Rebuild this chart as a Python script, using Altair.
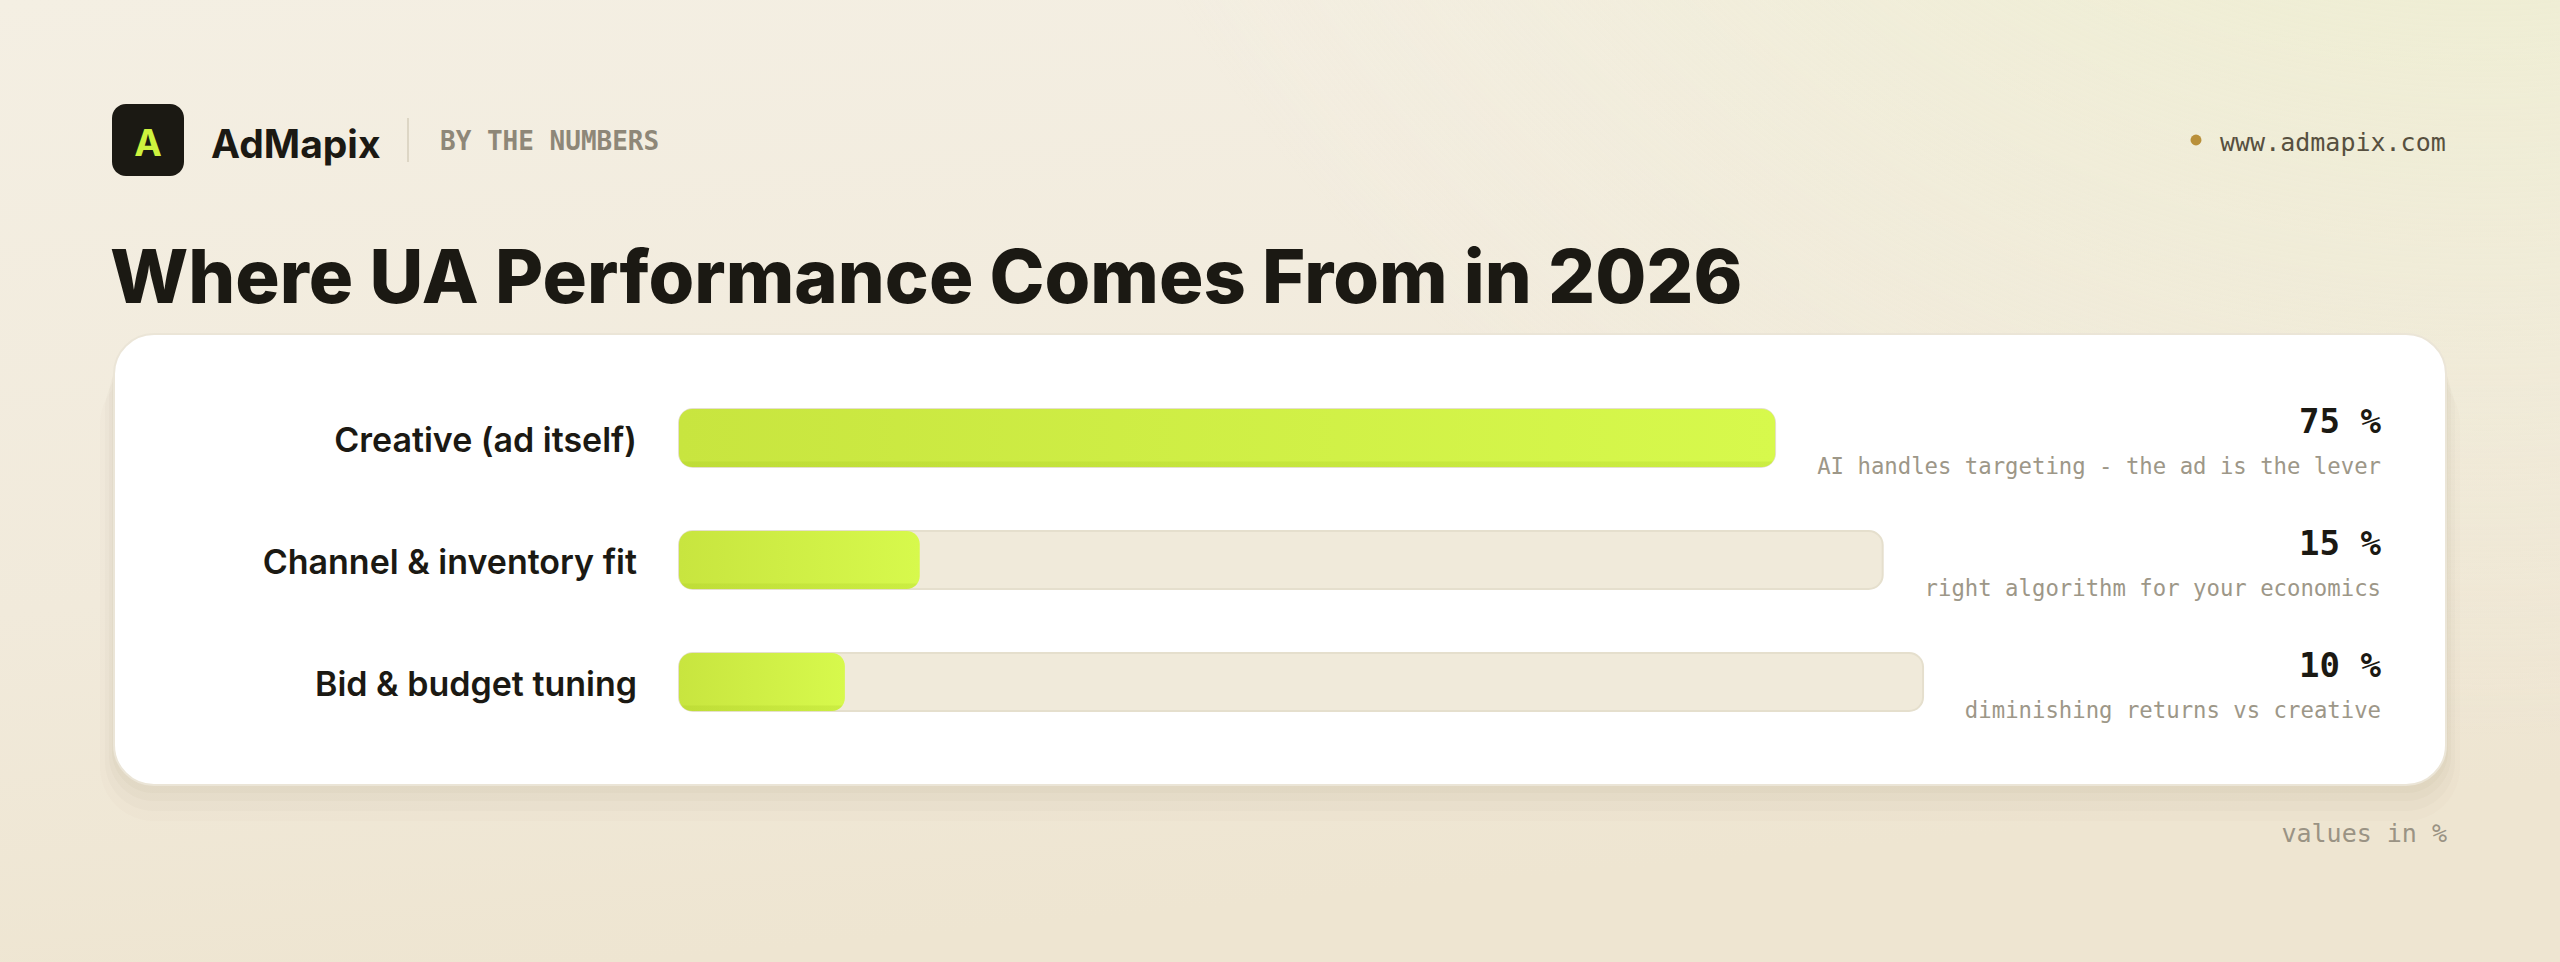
import altair as alt
import pandas as pd

# ---------------- data ----------------
categories = ["Creative (ad itself)", "Channel & inventory fit", "Bid & budget tuning"]
values = [75, 15, 10]
value_labels = ["75 %", "15 %", "10 %"]
notes = [
    "AI handles targeting - the ad is the lever",
    "right algorithm for your economics",
    "diminishing returns vs creative",
]

title_text = "Where UA Performance Comes From in 2026"
brand = "AdMapix"
kicker = "BY THE NUMBERS"
site = "www.admapix.com"
footnote = "values in %"

df = pd.DataFrame({"category": categories, "value": values,
                   "vlabel": value_labels, "note": notes})
one = pd.DataFrame({"k": [0]})

# ---------------- layout constants ----------------
W, H = 2560, 962
TRACK_X0, RIGHT_X = 679, 2381          # track start / right edge of value text
SPAN = RIGHT_X - TRACK_X0
CHAR_W = 13.45                          # monospace note char width
GAP = 41
INK = "#1b1913"
MONO = "DejaVu Sans Mono"
SANS = "Inter"

xs = alt.Scale(domain=[0, 100], range=[TRACK_X0, RIGHT_X], nice=False, zero=False)
ys = alt.Scale(domain=categories, range=[348, 772], paddingInner=0.5246, paddingOuter=0.5)
X0 = alt.X("x0:Q", scale=xs, axis=None)
Y = alt.Y("category:N", scale=ys, axis=None, sort=categories)

# ---------------- background ----------------
bg = alt.Chart(one).mark_rect(
    color=alt.Gradient(gradient="linear", x1=0, y1=0, x2=0.25, y2=1,
                       stops=[alt.GradientStop(color="#f4efe3", offset=0),
                              alt.GradientStop(color="#f1eadb", offset=0.6),
                              alt.GradientStop(color="#eee5d1", offset=1)])
).encode(x=alt.value(0), x2=alt.value(W), y=alt.value(0), y2=alt.value(H))

glow = alt.Chart(one).mark_rect(
    color=alt.Gradient(gradient="radial", x1=0.97, y1=0.0, r1=0, x2=0.97, y2=0.0, r2=0.6,
                       stops=[alt.GradientStop(color="rgba(232,240,190,1)", offset=0),
                              alt.GradientStop(color="rgba(235,239,200,0.6)", offset=0.45),
                              alt.GradientStop(color="rgba(240,236,216,0)", offset=1)])
).encode(x=alt.value(0), x2=alt.value(W), y=alt.value(0), y2=alt.value(H))

# ---------------- header ----------------
logo = alt.Chart(one).mark_rect(color=INK, cornerRadius=14).encode(
    x=alt.value(112), x2=alt.value(184), y=alt.value(104), y2=alt.value(176))
logo_a = alt.Chart(one).mark_text(text="A", font=SANS, fontWeight=700, fontSize=37,
                                  color="#cdf23e", align="center", baseline="alphabetic"
                                  ).encode(x=alt.value(148), y=alt.value(156))
brand_t = alt.Chart(one).mark_text(text=brand, font=SANS, fontWeight=700, fontSize=39,
                                   color=INK, align="left", baseline="alphabetic"
                                   ).encode(x=alt.value(211), y=alt.value(158))
divider = alt.Chart(one).mark_rule(color="#ddd6c5", strokeWidth=2).encode(
    x=alt.value(408), y=alt.value(118), y2=alt.value(162))
kicker_t = alt.Chart(one).mark_text(text=kicker, font=MONO, fontWeight=700, fontSize=26,
                                    color="#8e8778", align="left", baseline="alphabetic"
                                    ).encode(x=alt.value(440), y=alt.value(150))
dot = alt.Chart(one).mark_point(filled=True, size=120, color="#b9903a", opacity=1,
                                shape="circle").encode(x=alt.value(2196), y=alt.value(140))
site_t = alt.Chart(one).mark_text(text=site, font=MONO, fontSize=25, color="#57503f",
                                  align="left", baseline="alphabetic"
                                  ).encode(x=alt.value(2220), y=alt.value(151))
title_t = alt.Chart(one).mark_text(text=title_text, font=SANS, fontWeight=800, fontSize=74,
                                   color=INK, align="left", baseline="alphabetic"
                                   ).encode(x=alt.value(110), y=alt.value(303))

# ---------------- card ----------------
shadows = []
for dy, grow, op in [(36, 14, 0.02), (26, 9, 0.03), (16, 5, 0.035), (8, 2, 0.04)]:
    shadows.append(alt.Chart(one).mark_rect(color="#8a7a55", opacity=op,
                                            cornerRadius=40 + grow).encode(
        x=alt.value(114 - grow), x2=alt.value(2446 + grow),
        y=alt.value(334 + dy), y2=alt.value(785 + dy)))
card = alt.Chart(one).mark_rect(color="#ffffff", stroke="#ebe5d7", strokeWidth=2,
                                cornerRadius=40).encode(
    x=alt.value(114), x2=alt.value(2446), y=alt.value(334), y2=alt.value(785))

# ---------------- bars ----------------
base = alt.Chart(df).transform_joinaggregate(vmax="max(value)").transform_calculate(
    x0="0",
    track_end=f"100 - (length(datum.note) * {CHAR_W} + {GAP}) / {SPAN} * 100",
).transform_calculate(
    fill_end="datum.value / datum.vmax * datum.track_end"
)

track = base.mark_bar(color="#f0eada", stroke="#e5dfcd", strokeWidth=2, cornerRadius=14).encode(
    x=X0, x2="track_end:Q", y=Y)
fill = base.mark_bar(cornerRadius=13,
                     color=alt.Gradient(gradient="linear", x1=0, y1=0, x2=1, y2=0,
                                        stops=[alt.GradientStop(color="#c8e53f", offset=0),
                                               alt.GradientStop(color="#d7f94c", offset=1)])
                     ).encode(x=X0, x2="fill_end:Q", y=Y)
fill_edge = base.mark_bar(cornerRadius=13,
                          color=alt.Gradient(gradient="linear", x1=0, y1=0, x2=0, y2=1,
                                             stops=[alt.GradientStop(color="rgba(150,180,20,0)", offset=0),
                                                    alt.GradientStop(color="rgba(150,180,20,0)", offset=0.9),
                                                    alt.GradientStop(color="rgba(150,185,20,0.18)", offset=0.91),
                                                    alt.GradientStop(color="rgba(150,185,20,0.18)", offset=1)])
                          ).encode(x=X0, x2="fill_end:Q", y=Y)

cat_t = base.mark_text(font=SANS, fontWeight=600, fontSize=34, color=INK, align="right",
                       baseline="alphabetic", dy=14).encode(
    x=alt.value(637), y=Y, text="category:N")
val_t = base.mark_text(font=MONO, fontWeight=700, fontSize=34, color=INK, align="right",
                       baseline="alphabetic", dy=-5).encode(
    x=alt.value(RIGHT_X), y=Y, text="vlabel:N")
note_t = base.mark_text(font=MONO, fontSize=22.3, color="#9d9788", align="right",
                        baseline="alphabetic", dy=36).encode(
    x=alt.value(RIGHT_X), y=Y, text="note:N")

foot_t = alt.Chart(one).mark_text(text=footnote, font=MONO, fontSize=25, color="#9a9384",
                                  align="right", baseline="alphabetic"
                                  ).encode(x=alt.value(2447), y=alt.value(842))

chart = alt.layer(
    bg, glow, logo, logo_a, brand_t, divider, kicker_t, dot, site_t, title_t,
    *shadows, card, track, fill, fill_edge, cat_t, val_t, note_t, foot_t
).properties(
    width=W, height=H, padding=0, autosize=alt.AutoSizeParams(type="none"),
    background="#f2ecdf"
).configure_view(stroke=None)

chart.save("out.html", embed_options={"renderer": "svg", "actions": False})
